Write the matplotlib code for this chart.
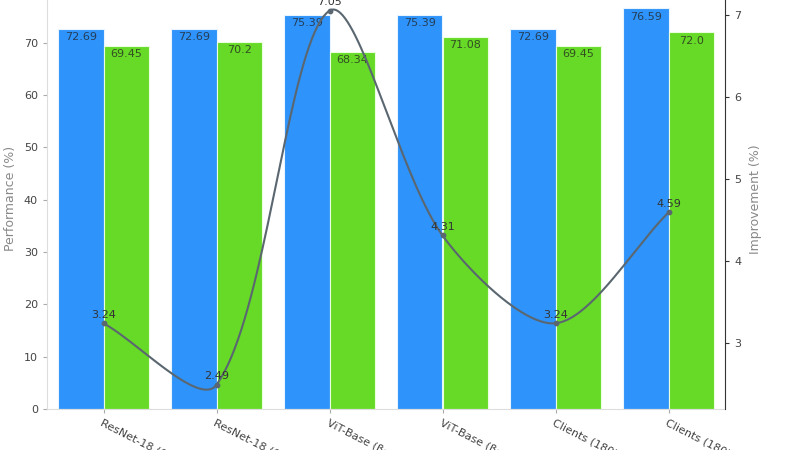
import numpy as np
import matplotlib.pyplot as plt

labels = ['ResNet-18 (0.1)', 'ResNet-18 (0.5)', 'ViT-Base (β=0.1)',
          'ViT-Base (β=0.5)', 'Clients (180)', 'Clients (180)']
ours = [72.69, 72.69, 75.39, 75.39, 72.69, 76.59]
baseline = [69.45, 70.2, 68.34, 71.08, 69.45, 72.0]
improvement = [3.24, 2.49, 7.05, 4.31, 3.24, 4.59]

BLUE = '#2E93FA'
GREEN = '#66DA26'
LINE = '#5b6770'


def smooth_curve(pts, tension=0.3, num=40):
    # bezier spline through pts (display coords), control points from neighbours
    n = len(pts)
    cps = []
    for i in range(n):
        cur = pts[i]
        prev = pts[i - 1] if i > 0 else cur
        nxt = pts[i + 1] if i < n - 1 else cur
        d01 = np.hypot(*(cur - prev))
        d12 = np.hypot(*(nxt - cur))
        s01 = d01 / (d01 + d12)
        s12 = d12 / (d01 + d12)
        cps.append((cur - tension * s01 * (nxt - prev),
                    cur + tension * s12 * (nxt - prev)))
    t = np.linspace(0, 1, num)[:, None]
    out = []
    for i in range(n - 1):
        p0, p3 = pts[i], pts[i + 1]
        p1, p2 = cps[i][1], cps[i + 1][0]
        seg = ((1 - t) ** 3 * p0 + 3 * (1 - t) ** 2 * t * p1
               + 3 * (1 - t) * t ** 2 * p2 + t ** 3 * p3)
        out.append(seg if i == 0 else seg[1:])
    return np.vstack(out)


fig = plt.figure(figsize=(8, 4.5), dpi=100)
ax = fig.add_axes([47 / 800, 41 / 450, 678 / 800, 420.5 / 450])
x = np.arange(len(labels))
w = 0.4

b1 = ax.bar(x - w / 2, ours, w, color=BLUE, edgecolor='#e8f4ff', linewidth=0.8)
b2 = ax.bar(x + w / 2, baseline, w, color=GREEN, edgecolor='#eaffdd', linewidth=0.8)
for bars, vals in ((b1, ours), (b2, baseline)):
    for r, v in zip(bars, vals):
        ax.text(r.get_x() + r.get_width() / 2, v - 0.6, str(v), ha='center', va='top',
                fontsize=8, color='#222222', alpha=0.75)

ax.set_xlim(-0.5, 5.5)
ax.set_ylim(0, 80.4)
ax.set_xticks(x)
ax.set_xticklabels(labels, rotation=-27, ha='left', rotation_mode='anchor',
                   fontsize=8, color='#444444')
ax.tick_params(axis='y', labelsize=8, colors='#444444', length=3, color='#aaaaaa')
ax.tick_params(axis='x', length=3, color='#aaaaaa')
ax.set_ylabel('Performance (%)', fontsize=9, color='#888888', labelpad=5)
for s in ('top', 'right'):
    ax.spines[s].set_visible(False)
ax.spines['left'].set_color('#dddddd')
ax.spines['bottom'].set_color('#dddddd')

ax2 = ax.twinx()
ax2.set_xlim(-0.5, 5.5)
ax2.set_ylim(2.195, 7.32)
disp = ax2.transData.transform(np.column_stack([x, improvement]))
curve = ax2.transData.inverted().transform(smooth_curve(disp))
ax2.plot(curve[:, 0], curve[:, 1], color=LINE, linewidth=1.5)
ax2.scatter(x, improvement, s=10, color=LINE, zorder=3)
for xi, v in zip(x, improvement):
    ax2.annotate(str(v), (xi, v), xytext=(0, 2.5), textcoords='offset points',
                 ha='center', va='bottom', fontsize=8, color='#333333')
ax2.set_yticks([3, 4, 5, 6, 7])
ax2.tick_params(axis='y', labelsize=8, colors='#444444', length=3, color='#333333')
ax2.set_ylabel('Improvement (%)', fontsize=9, color='#888888', labelpad=6)
for s in ('top', 'left', 'bottom'):
    ax2.spines[s].set_visible(False)
ax2.spines['right'].set_color('#333333')

fig.savefig('out.png', dpi=100)
